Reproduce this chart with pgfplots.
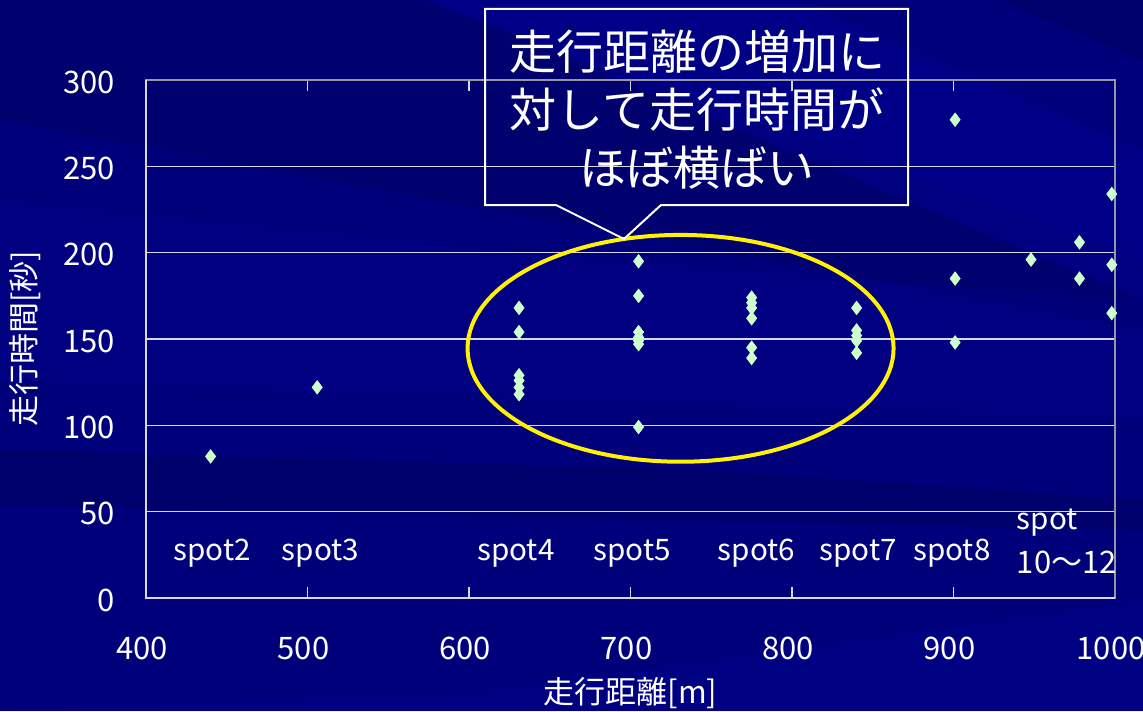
\documentclass[border=0pt]{standalone}
\usepackage{fontspec}
\setmainfont{Noto Sans CJK JP}
\usepackage{pgfplots}
\pgfplotsset{compat=1.18}

\definecolor{bgbase}{RGB}{0,0,122}
\definecolor{bgdark}{RGB}{0,0,100}
\definecolor{bglight}{RGB}{0,0,148}
\definecolor{mint}{RGB}{204,255,204}
\definecolor{gridc}{RGB}{215,215,230}
\definecolor{framec}{RGB}{150,150,165}
\definecolor{ringc}{RGB}{255,242,0}

\begin{document}
\begin{tikzpicture}
% slide background, 1 unit = one pixel of a 1143 x 711 canvas
\begin{scope}[x=0.5pt,y=-0.5pt]
  \fill[bgbase] (0,0) rectangle (1143,711);
  \fill[bgdark, opacity=0.5] (0,0) -- (420,0) -- (1143,260) -- (1143,330) -- (0,120) -- cycle;
  \fill[bglight, opacity=0.5] (430,0) -- (800,0) -- (1143,150) -- (1143,300) -- cycle;
  \fill[bgdark, opacity=0.6] (1000,0) -- (1143,0) -- (1143,60) -- cycle;
  \fill[bglight, opacity=0.3] (0,200) -- (600,260) -- (1143,300) -- (1143,420) -- (0,380) -- cycle;
  \fill[bgdark, opacity=0.6] (0,450) -- (700,470) -- (1143,500) -- (1143,530) -- (0,505) -- cycle;
  \fill[bglight, opacity=0.35] (0,711) -- (500,690) -- (1143,600) -- (1143,711) -- cycle;
\end{scope}

\begin{axis}[
  at={(73pt,-299pt)}, anchor=south west,
  scale only axis, width=484.5pt, height=259pt,
  xmin=400, xmax=1000, ymin=0, ymax=300,
  xtick={400,500,...,1000}, ytick={0,50,...,300},
  /pgf/number format/assume math mode=true,
  /pgf/number format/1000 sep={},
  ymajorgrids, grid style={gridc, line width=0.6pt},
  axis line style={framec, line width=0.7pt},
  tick align=inside, major tick length=5.5pt,
  xtick style={gridc, line width=0.6pt}, ytick style={draw=none},
  tick label style={white, font=\fontsize{15.5}{18}\selectfont},
  xticklabel style={anchor=center, yshift=-25pt, xshift=-2pt},
  yticklabel style={anchor=east, xshift=-12pt, yshift=-1pt},
  every axis x label/.style={at={(rel axis cs:0.5,0)}, yshift=-47.5pt, anchor=center},
  every axis y label/.style={at={(rel axis cs:0,0.5)}, xshift=-60.5pt, rotate=90, anchor=center},
  label style={white, font=\fontsize{15.5}{18}\selectfont},
  xlabel={走行距離[m]}, ylabel={走行時間[秒]},
  clip=false,
]
\addplot[only marks, mark=diamond*, mark size=3.4pt,
  mark options={fill=mint, draw=mint, line width=0.3pt}]
  table {
x y
440 82
506 122
631 168
631 154
631 129
631 126
631 122
631 118
705 195
705 175
705 154
705 151
705 149
705 147
705 99
775 174
775 171
775 168
775 162
775 145
775 139
840 168
840 155
840 152
840 149
840 142
901 277
901 185
901 148
948 196
978 206
978 185
998 234
998 193
998 165
};
% left and bottom frame in the lighter tone
\draw[gridc, line width=0.7pt] (rel axis cs:0,1) -- (rel axis cs:0,0) -- (rel axis cs:1,0);
% spot names
\begin{scope}[white, font=\fontsize{14.8}{17}\selectfont]
\node at (axis cs:441,26) {spot2};
\node at (axis cs:508,26) {spot3};
\node at (axis cs:629,26) {spot4};
\node at (axis cs:701,26) {spot5};
\node at (axis cs:778,26) {spot6};
\node at (axis cs:841,26) {spot7};
\node at (axis cs:899,26) {spot8};
\node[anchor=west, inner sep=0pt] at (axis cs:939,43.4) {spot};
\node[anchor=west, inner sep=0pt, font=\fontsize{15.5}{17}\selectfont] at (axis cs:939,20.8) {10〜12};
\end{scope}
% the cluster that stays flat
\draw[ringc, line width=2pt] (axis cs:731,144.6) ellipse [x radius=106.5pt, y radius=56.7pt];
\end{axis}

% callout
\begin{scope}[x=0.5pt,y=-0.5pt]
  \draw[white, line width=1pt, line join=miter]
    (485,9) -- (908,9) -- (908,205) -- (661,205) -- (624,239) -- (556,205) -- (485,205) -- cycle;
  \node[white, align=center, font=\fontsize{23.5}{29}\selectfont] at (697,110)
    {走行距離の増加に\\対して走行時間が\\ほぼ横ばい};
  % page size: the whole slide canvas
  \pgfresetboundingbox
  \useasboundingbox (0,0) rectangle (1143,711);
\end{scope}
\end{tikzpicture}
\end{document}
